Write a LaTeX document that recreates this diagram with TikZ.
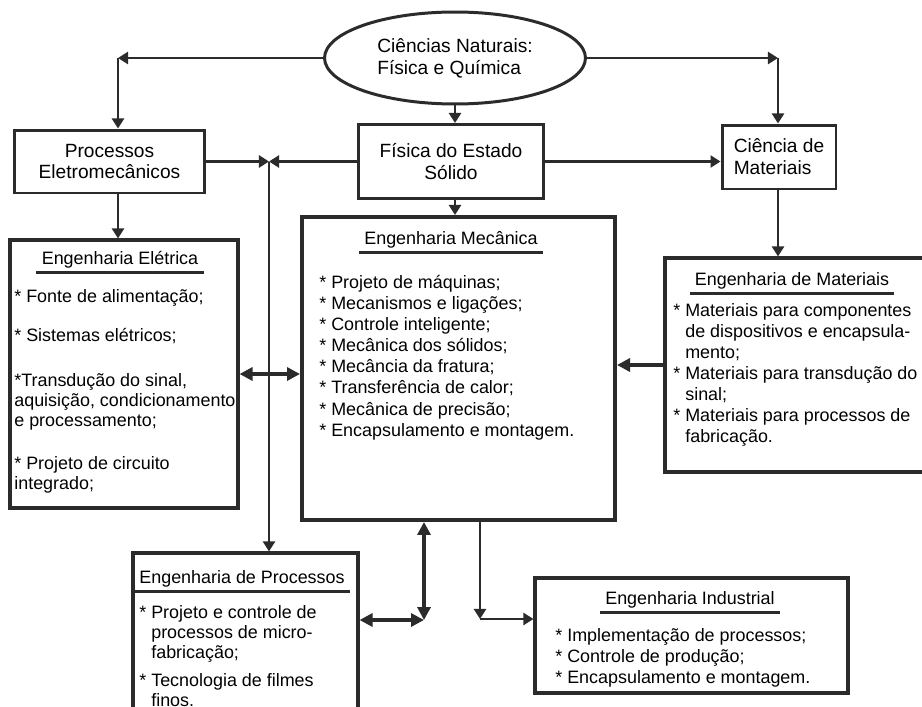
\documentclass[tikz,border=0pt]{standalone}
\usepackage{fontspec}
\setmainfont{Liberation Sans}
\usetikzlibrary{arrows.meta,shapes.geometric}
\definecolor{traco}{HTML}{2B2B2B}

\tikzset{
    topbox/.style={draw=traco, line width=1.7pt, align=center, inner sep=0pt,
        font=\fontsize{10.9}{12.5}\selectfont},
    engbox/.style={draw=traco, line width=1.8pt, inner sep=0pt},
    titulo/.style={anchor=base, inner xsep=0.1cm, inner ysep=2.4pt,
        font=\fontsize{10.2}{12}\selectfont},
    lista/.style={anchor=north west, inner sep=0pt, align=left,
        font=\fontsize{10.2}{12}\selectfont},
    sub/.style={draw=traco, line width=1.5pt},
    seta/.style={draw=traco, line width=1.6pt, -{Triangle[length=5.7pt,width=6.8pt]}},
    setagrossa/.style={draw=traco, line width=2.3pt, -{Triangle[length=7.4pt,width=7.4pt]}},
    duplagrossa/.style={draw=traco, line width=2.3pt,
        {Triangle[length=7.4pt,width=7.4pt]}-{Triangle[length=7.4pt,width=7.4pt]}},
}

\begin{document}
\begin{tikzpicture}[x=0.02cm, y=-0.02cm]
    \clip (0,0) rectangle (922,706);
    % Top row
    \node[ellipse, draw=traco, line width=1.7pt, minimum width=5.22cm, minimum height=1.84cm,
        align=left, inner sep=0pt, font=\fontsize{10.9}{12.5}\selectfont] (nat) at (455,58)
        {Ciências Naturais:\\Física e Química};
    \node[topbox, minimum width=3.82cm, minimum height=1.26cm] (proc) at (109.5,161.5) {Processos\\Eletromecânicos};
    \node[topbox, minimum width=3.72cm, minimum height=1.48cm] (fis) at (451,161.5) {Física do Estado\\Sólido};
    \node[topbox, minimum width=2.28cm, minimum height=1.28cm, align=left] (cie) at (779,157) {Ciência de\\Materiais};

    % Engineering boxes
    \node[engbox, minimum width=4.56cm, minimum height=5.36cm] (ele) at (124,374) {};
    \node[engbox, line width=2.3pt, minimum width=6.26cm, minimum height=6.06cm] (mec) at (458.5,368.5) {};
    \node[engbox, minimum width=5.30cm, minimum height=4.28cm] (mat) at (797.5,365) {};
    \node[engbox, minimum width=4.50cm, minimum height=3.34cm] (pro) at (245.5,636.5) {};
    \node[engbox, minimum width=6.26cm, minimum height=2.30cm] (ind) at (691.5,635.5) {};

    % Titles and lists
    \node[titulo] (ele-t) at (120,264) {Engenharia Elétrica};
    \draw[sub] (ele-t.south west) -- (ele-t.south east);
    \node[lista, font=\fontsize{10.2}{11.4}\selectfont] (ele-l) at (14,289)
        {* Fonte de alimentação;\\[11pt] * Sistemas elétricos;\\[14pt] *Transdução do sinal,\\
        aquisição, condicionamento\\e processamento;\\[13pt] * Projeto de circuito\\integrado;};
    \node[titulo] (mec-t) at (451,244) {Engenharia Mecânica};
    \draw[sub] (mec-t.south west) -- (mec-t.south east);
    \node[lista] (mec-l) at (319,275)
        {* Projeto de máquinas;\\* Mecanismos e ligações;\\* Controle inteligente;\\
        * Mecânica dos sólidos;\\* Mecância da fratura;\\* Transferência de calor;\\
        * Mecânica de precisão;\\* Encapsulamento e montagem.};
    \node[titulo] (mat-t) at (792,285) {Engenharia de Materiais};
    \draw[sub] (mat-t.south west) -- (mat-t.south east);
    \node[lista] (mat-l) at (673,303)
        {* Materiais para componentes\\\hphantom{*} de dispositivos e encapsula-\\\hphantom{*} mento;\\
        * Materiais para transdução do\\\hphantom{*} sinal;\\* Materiais para processos de\\
        \hphantom{*} fabricação.};
    \node[titulo] (pro-t) at (242,583) {Engenharia de Processos};
    \draw[sub] (pro-t.south west) -- (pro-t.south east);
    \node[lista, font=\fontsize{10.2}{11.4}\selectfont] (pro-l) at (139,605)
        {* Projeto e controle de\\\hphantom{*} processos de micro-\\\hphantom{*} fabricação;\\[4.5pt]
        * Tecnologia de filmes\\\hphantom{*} finos.};
    \node[titulo] (ind-t) at (690,604) {Engenharia Industrial};
    \draw[sub] (ind-t.south west) -- (ind-t.south east);
    \node[lista] (ind-l) at (555,628)
        {* Implementação de processos;\\* Controle de produção;\\* Encapsulamento e montagem.};

    % Corners
    \coordinate (cl) at (118,58);
    \coordinate (cr) at (778,58);
    \coordinate (jn) at (269,161.5);
    \coordinate (cp) at (424,620);
    \coordinate (ci) at (480,619);

    % Arrows from the top
    \draw[seta] (nat.west) -- (cl);
    \draw[seta] (cl) -- (cl |- proc.north);
    \draw[seta] (nat.east) -- (cr);
    \draw[seta] (cr) -- (cr |- cie.north);
    \draw[seta] (nat.south) -- (nat.south |- fis.north);
    \draw[seta] (fis.south -| nat.south) -- (nat.south |- mec.north);
    \draw[seta] (proc.east) -- (jn);
    \draw[seta] (fis.west) -- (jn);
    \draw[seta] (jn) -- (jn |- pro.north);
    \draw[seta] (fis.east) -- (fis.east -| cie.west);
    \draw[seta] (proc.south -| cl) -- (cl |- ele.north);
    \draw[seta] (cie.south -| cr) -- (cr |- mat.north);

    % Thick links
    \draw[duplagrossa] (ele.east) -- (ele.east -| mec.west);
    \draw[setagrossa] (mat.west) -- (mat.west -| mec.east);
    \draw[duplagrossa] (pro.east |- cp) -- (cp);
    \draw[duplagrossa] (cp) -- (cp |- mec.south);
    \draw[seta] (mec.south -| ci) -- (ci);
    \draw[seta] (ci) -- (ci -| ind.west);
\end{tikzpicture}
\end{document}
